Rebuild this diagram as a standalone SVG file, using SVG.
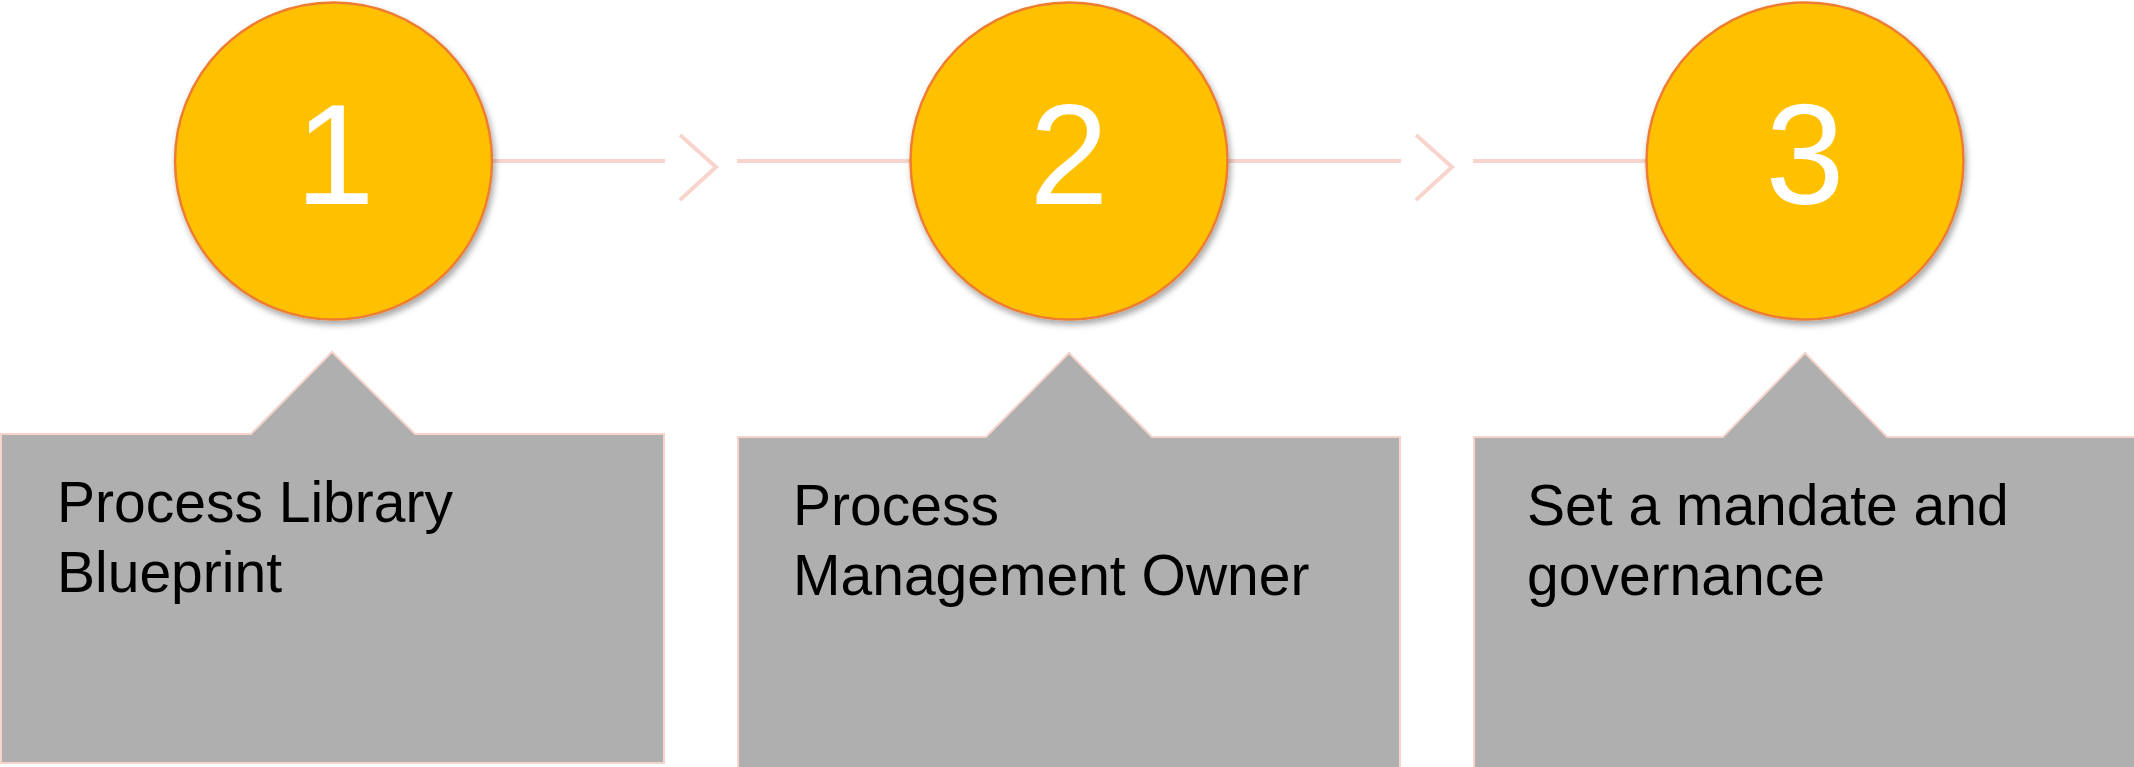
<svg xmlns="http://www.w3.org/2000/svg" width="2134" height="767" viewBox="0 0 2134 767">
<defs>
<filter id="sh" x="-20%" y="-20%" width="140%" height="140%">
<feDropShadow dx="2" dy="4" stdDeviation="3" flood-color="#000" flood-opacity="0.35"/>
</filter>
</defs>
<style>
.circ{fill:#FFC000;stroke:#ED7D31;stroke-width:2.5}
.num{font-family:"Liberation Sans",Arial,sans-serif;font-size:142px;fill:#FFFFFF;text-anchor:middle}
.box{fill:#AFAFAF;stroke:#F6D3CB;stroke-width:2}
.lbl{font-family:"Liberation Sans",Arial,sans-serif;font-size:57px;fill:#000000}
.con{fill:none;stroke:#F8D5CC;stroke-width:4}
</style>
<rect width="2134" height="767" fill="#FFFFFF"/>
<g id="connectors">
<line class="con" x1="492" y1="161" x2="665" y2="161"/>
<polyline class="con" points="680,135 716,167 680,200"/>
<line class="con" x1="737" y1="161" x2="910" y2="161"/>
<line class="con" x1="1228" y1="161" x2="1401" y2="161"/>
<polyline class="con" points="1416,135 1452,167 1416,200"/>
<line class="con" x1="1473" y1="161" x2="1646" y2="161"/>
</g>
<g id="step1">
<circle class="circ" cx="333.5" cy="161" r="158.5" filter="url(#sh)"/>
<text class="num" x="335" y="204">1</text>
</g>
<g id="step2">
<circle class="circ" cx="1069" cy="161" r="158.5" filter="url(#sh)"/>
<text class="num" x="1069" y="204">2</text>
</g>
<g id="step3">
<circle class="circ" cx="1805" cy="161" r="158.5" filter="url(#sh)"/>
<text class="num" x="1805" y="204">3</text>
</g>
<g id="box1">
<path class="box" d="M1,434 H251 L332,352 L415,434 H664 V763 H1 Z"/>
<text class="lbl" x="57" y="522">Process Library</text>
<text class="lbl" x="57" y="592">Blueprint</text>
</g>
<g id="box2">
<path class="box" d="M738,437 H986 L1069,353 L1152,437 H1400 V768 H738 Z"/>
<text class="lbl" x="793" y="525">Process</text>
<text class="lbl" x="793" y="595">Management Owner</text>
</g>
<g id="box3">
<path class="box" d="M1474,437 H1723 L1805,353 L1887,437 H2140 V768 H1474 Z"/>
<text class="lbl" x="1527" y="525">Set a mandate and</text>
<text class="lbl" x="1527" y="595">governance</text>
</g>
</svg>
